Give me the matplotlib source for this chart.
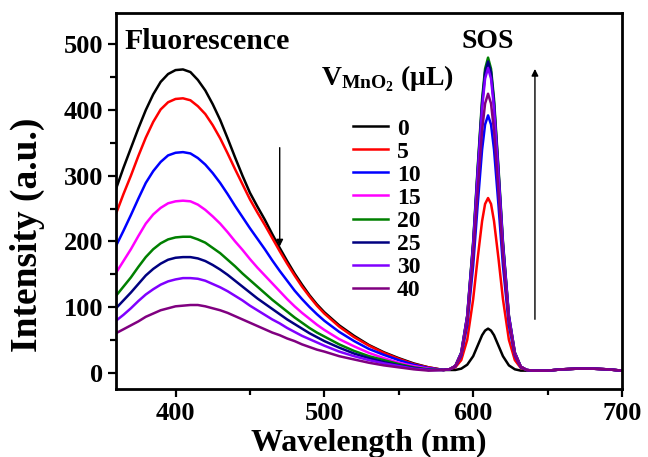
import matplotlib
matplotlib.use("Agg")
import matplotlib.pyplot as plt

plt.rcParams['font.family'] = ['Liberation Serif', 'DejaVu Serif']
plt.rcParams['font.weight'] = 'bold'
plt.rcParams['mathtext.fontset'] = 'custom'
plt.rcParams['mathtext.rm'] = 'Liberation Serif:bold'
plt.rcParams['mathtext.bf'] = 'Liberation Serif:bold'
plt.rcParams['mathtext.it'] = 'Liberation Serif:bold'

# wavelength grid (nm)
wl_fl = [360, 365, 370, 375, 380, 385, 390, 395, 400, 405, 410, 415, 420, 425, 430, 435, 440,
         445, 450, 455, 460, 465, 470, 475, 480, 485, 490, 495, 500, 510, 520, 530, 540, 550, 560, 570]
wl_sos = [580, 584, 588, 592, 596, 600, 603, 606, 608, 610, 612, 614, 617, 620, 624, 628, 632, 636, 640]
wl_tail = [650, 660, 670, 680, 690, 700]

labels = ['0', '5', '10', '15', '20', '25', '30', '40']
colors = ['#000000', '#ff0000', '#0000ff', '#ff00ff', '#008000', '#000080', '#8000ff', '#800080']

fl_0 = [280, 312, 342, 372, 400, 424, 443, 455, 461, 462, 458, 446, 430, 409, 385, 357, 328, 300, 274,
        253, 233, 211, 190, 170, 151, 134, 118, 104, 92, 72, 56, 42, 31, 22, 14, 8]
fl_5 = [242, 272, 300, 330, 358, 382, 401, 412, 417, 418, 415, 406, 394, 377, 357, 334, 310, 287, 264,
        244, 225, 205, 185, 166, 148, 131, 116, 102, 90, 70, 54, 41, 30, 21, 13, 8]
fl_10 = [193, 216, 240, 265, 289, 307, 321, 331, 335, 336, 334, 327, 317, 304, 289, 272, 254, 237, 220,
         204, 188, 171, 155, 140, 125, 112, 100, 89, 79, 62, 48, 36, 27, 19, 12, 7]
fl_15 = [152, 170, 188, 208, 227, 241, 251, 258, 261, 262, 261, 256, 248, 238, 227, 214, 200, 187, 173,
         160, 148, 136, 124, 112, 101, 91, 82, 73, 65, 51, 40, 30, 22, 15, 10, 6]
fl_20 = [117, 131, 145, 161, 176, 188, 197, 203, 206, 207, 207, 203, 198, 190, 182, 172, 162, 151, 141,
         131, 121, 111, 102, 93, 84, 76, 68, 61, 55, 43, 33, 25, 19, 13, 8, 5]
fl_25 = [98, 110, 122, 135, 148, 158, 166, 172, 175, 176, 176, 174, 170, 164, 157, 149, 140, 131, 122,
         113, 105, 97, 89, 81, 74, 67, 60, 54, 48, 38, 29, 22, 16, 11, 7, 4]
fl_30 = [79, 88, 98, 109, 119, 127, 134, 139, 142, 144, 144, 143, 140, 135, 130, 124, 117, 110, 102,
         95, 88, 81, 75, 68, 62, 56, 51, 46, 41, 32, 25, 19, 14, 10, 6, 4]
fl_40 = [60, 66, 72, 78, 85, 90, 95, 98, 101, 102, 103, 103, 101, 98, 95, 91, 86, 81, 76,
         71, 66, 61, 57, 52, 48, 43, 39, 35, 32, 25, 20, 15, 11, 8, 5, 3]

sos_0 = [4, 4, 4, 6, 12, 25, 41, 57, 64, 67, 64, 57, 41, 25, 11, 5, 3, 3, 3]
sos_5 = [4, 5, 8, 19, 50, 112, 174, 231, 257, 266, 257, 231, 174, 112, 50, 19, 7, 4, 3]
sos_10 = [4, 5, 9, 26, 72, 163, 255, 340, 378, 392, 378, 340, 255, 163, 72, 26, 8, 4, 3]
sos_15 = [4, 5, 10, 30, 86, 196, 305, 408, 454, 470, 454, 408, 305, 196, 86, 30, 9, 4, 3]
sos_20 = [4, 5, 10, 31, 87, 200, 312, 417, 463, 480, 463, 417, 312, 200, 87, 31, 9, 4, 3]
sos_25 = [4, 5, 10, 30, 86, 197, 308, 411, 458, 474, 458, 411, 308, 197, 86, 30, 9, 4, 3]
sos_30 = [4, 5, 10, 30, 85, 193, 302, 403, 448, 464, 448, 403, 302, 193, 85, 30, 9, 4, 3]
sos_40 = [4, 5, 10, 28, 78, 177, 276, 369, 410, 425, 410, 369, 276, 177, 78, 28, 9, 4, 3]

tail = [3, 5, 6, 6, 5, 3]

fl_all = [fl_0, fl_5, fl_10, fl_15, fl_20, fl_25, fl_30, fl_40]
sos_all = [sos_0, sos_5, sos_10, sos_15, sos_20, sos_25, sos_30, sos_40]

wl = wl_fl + wl_sos + wl_tail

W, H = 648, 457
fig = plt.figure(figsize=(W / 100, H / 100), dpi=100)
ax = fig.add_axes([116 / W, 1 - 389 / H, 506 / W, 376 / H])

handles = []
for fl, sos, lab, c in zip(fl_all, sos_all, labels, colors):
    y = fl + sos + tail
    h, = ax.plot(wl, y, color=c, lw=1.8, label=lab, solid_joinstyle='round')
    handles.append(h)

ax.set_xlim(360, 700)
ax.set_ylim(-25, 548)
ax.set_xticks([400, 500, 600, 700])
ax.set_xticks([450, 550, 650], minor=True)
ax.set_yticks([0, 100, 200, 300, 400, 500])
ax.set_yticks([50, 150, 250, 350, 450], minor=True)
ax.tick_params(axis='both', which='major', length=6, width=1.6, labelsize=19, direction='out',
               top=False, right=False, pad=3)
ax.tick_params(axis='both', which='minor', length=4, width=1.6, direction='out', top=False, right=False)
for s in ax.spines.values():
    s.set_linewidth(2)

ax.set_xlabel('Wavelength (nm)', fontsize=23, fontweight='bold')
ax.xaxis.set_label_coords(0.5, -0.106)
ax.set_ylabel('Intensity (a.u.)', fontsize=27, fontweight='bold')
ax.yaxis.set_label_coords(-0.14, 0.41)

ax.text(365.5, 504, 'Fluorescence', fontsize=21.5, fontweight='bold', ha='left', va='center')
ax.text(610, 504, 'SOS', fontsize=20, fontweight='bold', ha='center', va='center')

ax.annotate('', xy=(470, 188), xytext=(470, 347),
            arrowprops=dict(arrowstyle='-|>', color='black', lw=1.0, mutation_scale=10))
ax.annotate('', xy=(641.5, 467), xytext=(641.5, 77),
            arrowprops=dict(arrowstyle='-|>', color='black', lw=1.0, mutation_scale=10))

fig.text(388 / W, 1 - 79 / H, r'$\mathregular{V_{MnO_2}}$ (μL)', fontsize=20, fontweight='bold',
         ha='center', va='center')

leg = fig.legend(handles=handles, loc='upper left', bbox_to_anchor=(353 / W, 1 - 118 / H),
                 frameon=False, fontsize=17, handlelength=1.5, handletextpad=0.35,
                 labelspacing=0.065, borderpad=0, borderaxespad=0)

fig.savefig('out.png', dpi=100)
